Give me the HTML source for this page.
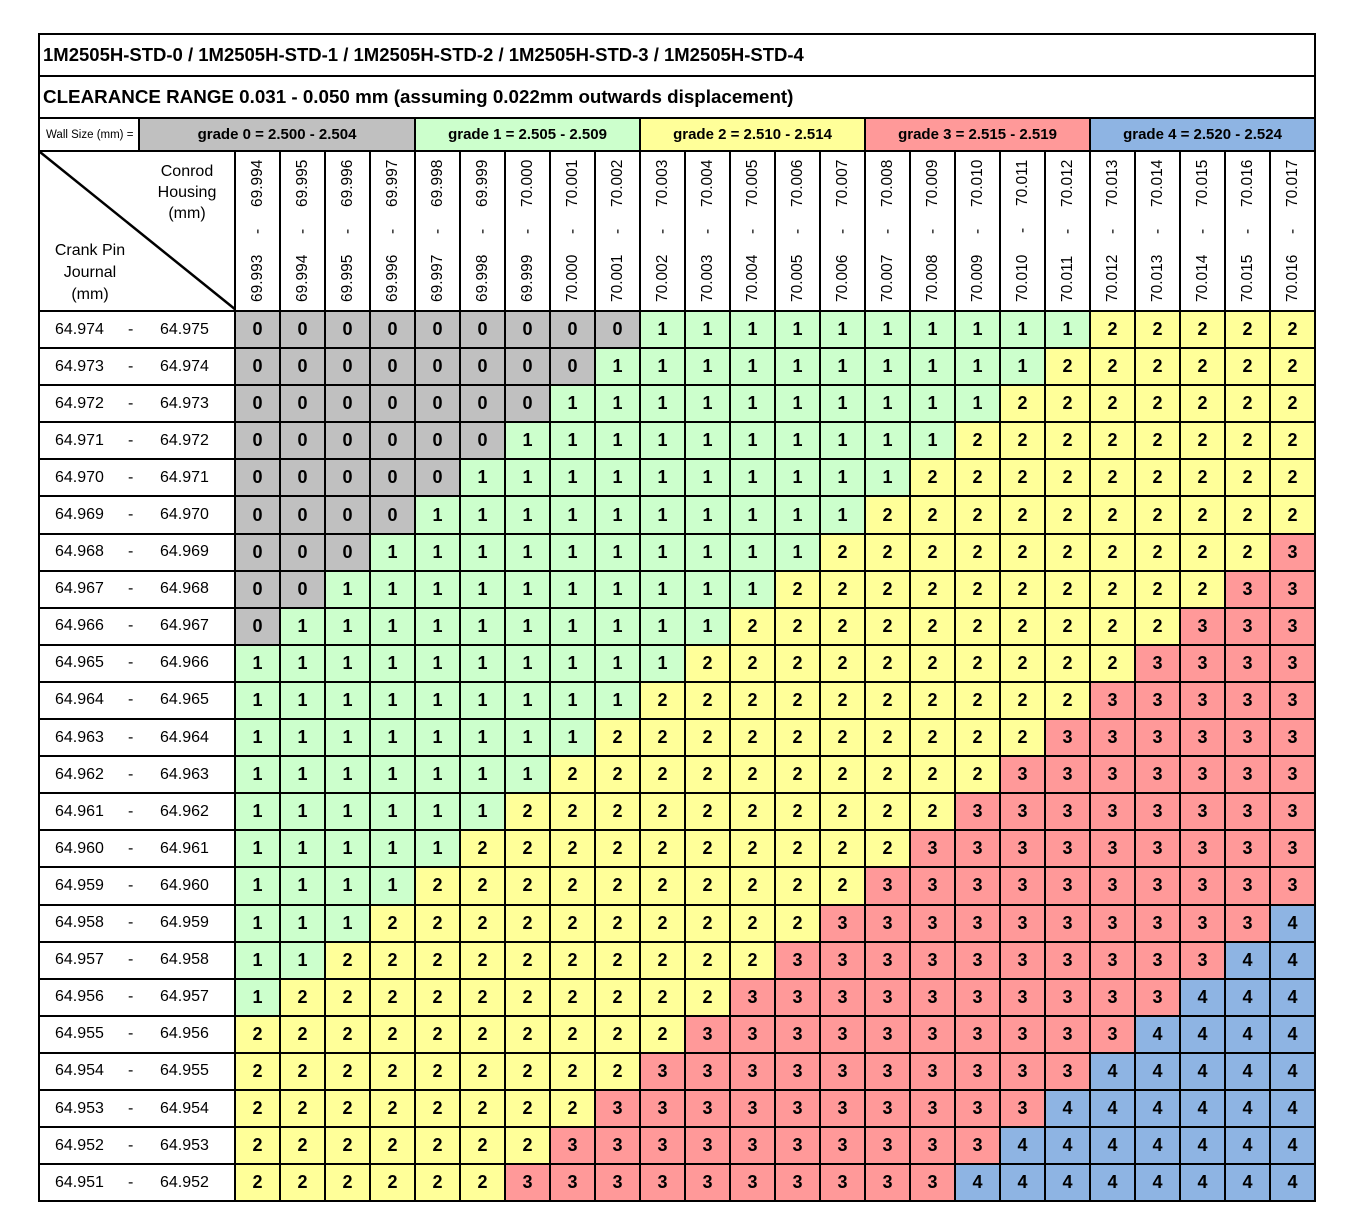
<!DOCTYPE html>
<html><head><meta charset="utf-8"><style>
body{margin:0;background:#fff;width:1370px;height:1228px;position:relative;font-family:"Liberation Sans",Arial,sans-serif}
table{position:absolute;left:38px;top:33px;border-collapse:collapse;table-layout:fixed;width:1277px;border:2px solid #000}
td{border:2px solid #000;padding:0;text-align:center;overflow:hidden;white-space:nowrap}
.t{text-align:left;padding-left:3px;font-weight:bold}
.gr{font-weight:bold;font-size:15px}
.h{vertical-align:middle}
.v{writing-mode:vertical-rl;transform:rotate(180deg);height:142px;display:flex;justify-content:space-between;align-items:center;margin:0 auto;font-size:15.5px}
.L{text-align:left;font-size:16px}
.L span{display:inline-block}
.L span:first-child{width:73px;padding-left:15px}
.L span:nth-child(2){width:32px}
tr.d td{height:35.1px}
tr.d td.a,tr.d td.b,tr.d td.c,tr.d td.e,tr.d td.f{font-weight:bold;font-size:18px}
.a{background:#c0c0c0}.b{background:#ccffcc}.c{background:#ffff99}.e{background:#ff9999}.f{background:#8eb4e3}
</style></head><body>
<table>
<colgroup><col style="width:100px"><col style="width:96px"><col span="24" style="width:45px"></colgroup>
<tr style="height:42px"><td colspan="26" class="t" style="font-size:18.5px">1M2505H-STD-0 / 1M2505H-STD-1 / 1M2505H-STD-2 / 1M2505H-STD-3 / 1M2505H-STD-4</td></tr>
<tr style="height:42px"><td colspan="26" class="t" style="font-size:18.8px">CLEARANCE RANGE 0.031 - 0.050 mm (assuming 0.022mm outwards displacement)</td></tr>
<tr style="height:33px"><td style="font-size:11.5px;text-align:left;padding-left:6px">Wall Size (mm) =</td><td colspan="5" class="gr a">grade 0 = 2.500 - 2.504</td><td colspan="5" class="gr b">grade 1 = 2.505 - 2.509</td><td colspan="5" class="gr c">grade 2 = 2.510 - 2.514</td><td colspan="5" class="gr e">grade 3 = 2.515 - 2.519</td><td colspan="5" class="gr f">grade 4 = 2.520 - 2.524</td></tr>
<tr style="height:160px"><td colspan="2" style="position:relative"><svg width="196" height="158" style="display:block" font-family="Liberation Sans, Arial, sans-serif" font-size="16"><line x1="0" y1="0" x2="196" y2="158" stroke="#000" stroke-width="2.5"/><text x="147" y="24" text-anchor="middle">Conrod</text><text x="147" y="45" text-anchor="middle">Housing</text><text x="147" y="66" text-anchor="middle">(mm)</text><text x="50" y="103" text-anchor="middle">Crank Pin</text><text x="50" y="125" text-anchor="middle">Journal</text><text x="50" y="147" text-anchor="middle">(mm)</text></svg></td>
<td class="h"><div class="v"><span>69.993</span><span>-</span><span>69.994</span></div></td>
<td class="h"><div class="v"><span>69.994</span><span>-</span><span>69.995</span></div></td>
<td class="h"><div class="v"><span>69.995</span><span>-</span><span>69.996</span></div></td>
<td class="h"><div class="v"><span>69.996</span><span>-</span><span>69.997</span></div></td>
<td class="h"><div class="v"><span>69.997</span><span>-</span><span>69.998</span></div></td>
<td class="h"><div class="v"><span>69.998</span><span>-</span><span>69.999</span></div></td>
<td class="h"><div class="v"><span>69.999</span><span>-</span><span>70.000</span></div></td>
<td class="h"><div class="v"><span>70.000</span><span>-</span><span>70.001</span></div></td>
<td class="h"><div class="v"><span>70.001</span><span>-</span><span>70.002</span></div></td>
<td class="h"><div class="v"><span>70.002</span><span>-</span><span>70.003</span></div></td>
<td class="h"><div class="v"><span>70.003</span><span>-</span><span>70.004</span></div></td>
<td class="h"><div class="v"><span>70.004</span><span>-</span><span>70.005</span></div></td>
<td class="h"><div class="v"><span>70.005</span><span>-</span><span>70.006</span></div></td>
<td class="h"><div class="v"><span>70.006</span><span>-</span><span>70.007</span></div></td>
<td class="h"><div class="v"><span>70.007</span><span>-</span><span>70.008</span></div></td>
<td class="h"><div class="v"><span>70.008</span><span>-</span><span>70.009</span></div></td>
<td class="h"><div class="v"><span>70.009</span><span>-</span><span>70.010</span></div></td>
<td class="h"><div class="v"><span>70.010</span><span>-</span><span>70.011</span></div></td>
<td class="h"><div class="v"><span>70.011</span><span>-</span><span>70.012</span></div></td>
<td class="h"><div class="v"><span>70.012</span><span>-</span><span>70.013</span></div></td>
<td class="h"><div class="v"><span>70.013</span><span>-</span><span>70.014</span></div></td>
<td class="h"><div class="v"><span>70.014</span><span>-</span><span>70.015</span></div></td>
<td class="h"><div class="v"><span>70.015</span><span>-</span><span>70.016</span></div></td>
<td class="h"><div class="v"><span>70.016</span><span>-</span><span>70.017</span></div></td>
</tr>
<tr class="d"><td colspan="2" class="L"><span>64.974</span><span>-</span><span>64.975</span></td><td class="a">0</td><td class="a">0</td><td class="a">0</td><td class="a">0</td><td class="a">0</td><td class="a">0</td><td class="a">0</td><td class="a">0</td><td class="a">0</td><td class="b">1</td><td class="b">1</td><td class="b">1</td><td class="b">1</td><td class="b">1</td><td class="b">1</td><td class="b">1</td><td class="b">1</td><td class="b">1</td><td class="b">1</td><td class="c">2</td><td class="c">2</td><td class="c">2</td><td class="c">2</td><td class="c">2</td></tr>
<tr class="d"><td colspan="2" class="L"><span>64.973</span><span>-</span><span>64.974</span></td><td class="a">0</td><td class="a">0</td><td class="a">0</td><td class="a">0</td><td class="a">0</td><td class="a">0</td><td class="a">0</td><td class="a">0</td><td class="b">1</td><td class="b">1</td><td class="b">1</td><td class="b">1</td><td class="b">1</td><td class="b">1</td><td class="b">1</td><td class="b">1</td><td class="b">1</td><td class="b">1</td><td class="c">2</td><td class="c">2</td><td class="c">2</td><td class="c">2</td><td class="c">2</td><td class="c">2</td></tr>
<tr class="d"><td colspan="2" class="L"><span>64.972</span><span>-</span><span>64.973</span></td><td class="a">0</td><td class="a">0</td><td class="a">0</td><td class="a">0</td><td class="a">0</td><td class="a">0</td><td class="a">0</td><td class="b">1</td><td class="b">1</td><td class="b">1</td><td class="b">1</td><td class="b">1</td><td class="b">1</td><td class="b">1</td><td class="b">1</td><td class="b">1</td><td class="b">1</td><td class="c">2</td><td class="c">2</td><td class="c">2</td><td class="c">2</td><td class="c">2</td><td class="c">2</td><td class="c">2</td></tr>
<tr class="d"><td colspan="2" class="L"><span>64.971</span><span>-</span><span>64.972</span></td><td class="a">0</td><td class="a">0</td><td class="a">0</td><td class="a">0</td><td class="a">0</td><td class="a">0</td><td class="b">1</td><td class="b">1</td><td class="b">1</td><td class="b">1</td><td class="b">1</td><td class="b">1</td><td class="b">1</td><td class="b">1</td><td class="b">1</td><td class="b">1</td><td class="c">2</td><td class="c">2</td><td class="c">2</td><td class="c">2</td><td class="c">2</td><td class="c">2</td><td class="c">2</td><td class="c">2</td></tr>
<tr class="d"><td colspan="2" class="L"><span>64.970</span><span>-</span><span>64.971</span></td><td class="a">0</td><td class="a">0</td><td class="a">0</td><td class="a">0</td><td class="a">0</td><td class="b">1</td><td class="b">1</td><td class="b">1</td><td class="b">1</td><td class="b">1</td><td class="b">1</td><td class="b">1</td><td class="b">1</td><td class="b">1</td><td class="b">1</td><td class="c">2</td><td class="c">2</td><td class="c">2</td><td class="c">2</td><td class="c">2</td><td class="c">2</td><td class="c">2</td><td class="c">2</td><td class="c">2</td></tr>
<tr class="d"><td colspan="2" class="L"><span>64.969</span><span>-</span><span>64.970</span></td><td class="a">0</td><td class="a">0</td><td class="a">0</td><td class="a">0</td><td class="b">1</td><td class="b">1</td><td class="b">1</td><td class="b">1</td><td class="b">1</td><td class="b">1</td><td class="b">1</td><td class="b">1</td><td class="b">1</td><td class="b">1</td><td class="c">2</td><td class="c">2</td><td class="c">2</td><td class="c">2</td><td class="c">2</td><td class="c">2</td><td class="c">2</td><td class="c">2</td><td class="c">2</td><td class="c">2</td></tr>
<tr class="d"><td colspan="2" class="L"><span>64.968</span><span>-</span><span>64.969</span></td><td class="a">0</td><td class="a">0</td><td class="a">0</td><td class="b">1</td><td class="b">1</td><td class="b">1</td><td class="b">1</td><td class="b">1</td><td class="b">1</td><td class="b">1</td><td class="b">1</td><td class="b">1</td><td class="b">1</td><td class="c">2</td><td class="c">2</td><td class="c">2</td><td class="c">2</td><td class="c">2</td><td class="c">2</td><td class="c">2</td><td class="c">2</td><td class="c">2</td><td class="c">2</td><td class="e">3</td></tr>
<tr class="d"><td colspan="2" class="L"><span>64.967</span><span>-</span><span>64.968</span></td><td class="a">0</td><td class="a">0</td><td class="b">1</td><td class="b">1</td><td class="b">1</td><td class="b">1</td><td class="b">1</td><td class="b">1</td><td class="b">1</td><td class="b">1</td><td class="b">1</td><td class="b">1</td><td class="c">2</td><td class="c">2</td><td class="c">2</td><td class="c">2</td><td class="c">2</td><td class="c">2</td><td class="c">2</td><td class="c">2</td><td class="c">2</td><td class="c">2</td><td class="e">3</td><td class="e">3</td></tr>
<tr class="d"><td colspan="2" class="L"><span>64.966</span><span>-</span><span>64.967</span></td><td class="a">0</td><td class="b">1</td><td class="b">1</td><td class="b">1</td><td class="b">1</td><td class="b">1</td><td class="b">1</td><td class="b">1</td><td class="b">1</td><td class="b">1</td><td class="b">1</td><td class="c">2</td><td class="c">2</td><td class="c">2</td><td class="c">2</td><td class="c">2</td><td class="c">2</td><td class="c">2</td><td class="c">2</td><td class="c">2</td><td class="c">2</td><td class="e">3</td><td class="e">3</td><td class="e">3</td></tr>
<tr class="d"><td colspan="2" class="L"><span>64.965</span><span>-</span><span>64.966</span></td><td class="b">1</td><td class="b">1</td><td class="b">1</td><td class="b">1</td><td class="b">1</td><td class="b">1</td><td class="b">1</td><td class="b">1</td><td class="b">1</td><td class="b">1</td><td class="c">2</td><td class="c">2</td><td class="c">2</td><td class="c">2</td><td class="c">2</td><td class="c">2</td><td class="c">2</td><td class="c">2</td><td class="c">2</td><td class="c">2</td><td class="e">3</td><td class="e">3</td><td class="e">3</td><td class="e">3</td></tr>
<tr class="d"><td colspan="2" class="L"><span>64.964</span><span>-</span><span>64.965</span></td><td class="b">1</td><td class="b">1</td><td class="b">1</td><td class="b">1</td><td class="b">1</td><td class="b">1</td><td class="b">1</td><td class="b">1</td><td class="b">1</td><td class="c">2</td><td class="c">2</td><td class="c">2</td><td class="c">2</td><td class="c">2</td><td class="c">2</td><td class="c">2</td><td class="c">2</td><td class="c">2</td><td class="c">2</td><td class="e">3</td><td class="e">3</td><td class="e">3</td><td class="e">3</td><td class="e">3</td></tr>
<tr class="d"><td colspan="2" class="L"><span>64.963</span><span>-</span><span>64.964</span></td><td class="b">1</td><td class="b">1</td><td class="b">1</td><td class="b">1</td><td class="b">1</td><td class="b">1</td><td class="b">1</td><td class="b">1</td><td class="c">2</td><td class="c">2</td><td class="c">2</td><td class="c">2</td><td class="c">2</td><td class="c">2</td><td class="c">2</td><td class="c">2</td><td class="c">2</td><td class="c">2</td><td class="e">3</td><td class="e">3</td><td class="e">3</td><td class="e">3</td><td class="e">3</td><td class="e">3</td></tr>
<tr class="d"><td colspan="2" class="L"><span>64.962</span><span>-</span><span>64.963</span></td><td class="b">1</td><td class="b">1</td><td class="b">1</td><td class="b">1</td><td class="b">1</td><td class="b">1</td><td class="b">1</td><td class="c">2</td><td class="c">2</td><td class="c">2</td><td class="c">2</td><td class="c">2</td><td class="c">2</td><td class="c">2</td><td class="c">2</td><td class="c">2</td><td class="c">2</td><td class="e">3</td><td class="e">3</td><td class="e">3</td><td class="e">3</td><td class="e">3</td><td class="e">3</td><td class="e">3</td></tr>
<tr class="d"><td colspan="2" class="L"><span>64.961</span><span>-</span><span>64.962</span></td><td class="b">1</td><td class="b">1</td><td class="b">1</td><td class="b">1</td><td class="b">1</td><td class="b">1</td><td class="c">2</td><td class="c">2</td><td class="c">2</td><td class="c">2</td><td class="c">2</td><td class="c">2</td><td class="c">2</td><td class="c">2</td><td class="c">2</td><td class="c">2</td><td class="e">3</td><td class="e">3</td><td class="e">3</td><td class="e">3</td><td class="e">3</td><td class="e">3</td><td class="e">3</td><td class="e">3</td></tr>
<tr class="d"><td colspan="2" class="L"><span>64.960</span><span>-</span><span>64.961</span></td><td class="b">1</td><td class="b">1</td><td class="b">1</td><td class="b">1</td><td class="b">1</td><td class="c">2</td><td class="c">2</td><td class="c">2</td><td class="c">2</td><td class="c">2</td><td class="c">2</td><td class="c">2</td><td class="c">2</td><td class="c">2</td><td class="c">2</td><td class="e">3</td><td class="e">3</td><td class="e">3</td><td class="e">3</td><td class="e">3</td><td class="e">3</td><td class="e">3</td><td class="e">3</td><td class="e">3</td></tr>
<tr class="d"><td colspan="2" class="L"><span>64.959</span><span>-</span><span>64.960</span></td><td class="b">1</td><td class="b">1</td><td class="b">1</td><td class="b">1</td><td class="c">2</td><td class="c">2</td><td class="c">2</td><td class="c">2</td><td class="c">2</td><td class="c">2</td><td class="c">2</td><td class="c">2</td><td class="c">2</td><td class="c">2</td><td class="e">3</td><td class="e">3</td><td class="e">3</td><td class="e">3</td><td class="e">3</td><td class="e">3</td><td class="e">3</td><td class="e">3</td><td class="e">3</td><td class="e">3</td></tr>
<tr class="d"><td colspan="2" class="L"><span>64.958</span><span>-</span><span>64.959</span></td><td class="b">1</td><td class="b">1</td><td class="b">1</td><td class="c">2</td><td class="c">2</td><td class="c">2</td><td class="c">2</td><td class="c">2</td><td class="c">2</td><td class="c">2</td><td class="c">2</td><td class="c">2</td><td class="c">2</td><td class="e">3</td><td class="e">3</td><td class="e">3</td><td class="e">3</td><td class="e">3</td><td class="e">3</td><td class="e">3</td><td class="e">3</td><td class="e">3</td><td class="e">3</td><td class="f">4</td></tr>
<tr class="d"><td colspan="2" class="L"><span>64.957</span><span>-</span><span>64.958</span></td><td class="b">1</td><td class="b">1</td><td class="c">2</td><td class="c">2</td><td class="c">2</td><td class="c">2</td><td class="c">2</td><td class="c">2</td><td class="c">2</td><td class="c">2</td><td class="c">2</td><td class="c">2</td><td class="e">3</td><td class="e">3</td><td class="e">3</td><td class="e">3</td><td class="e">3</td><td class="e">3</td><td class="e">3</td><td class="e">3</td><td class="e">3</td><td class="e">3</td><td class="f">4</td><td class="f">4</td></tr>
<tr class="d"><td colspan="2" class="L"><span>64.956</span><span>-</span><span>64.957</span></td><td class="b">1</td><td class="c">2</td><td class="c">2</td><td class="c">2</td><td class="c">2</td><td class="c">2</td><td class="c">2</td><td class="c">2</td><td class="c">2</td><td class="c">2</td><td class="c">2</td><td class="e">3</td><td class="e">3</td><td class="e">3</td><td class="e">3</td><td class="e">3</td><td class="e">3</td><td class="e">3</td><td class="e">3</td><td class="e">3</td><td class="e">3</td><td class="f">4</td><td class="f">4</td><td class="f">4</td></tr>
<tr class="d"><td colspan="2" class="L"><span>64.955</span><span>-</span><span>64.956</span></td><td class="c">2</td><td class="c">2</td><td class="c">2</td><td class="c">2</td><td class="c">2</td><td class="c">2</td><td class="c">2</td><td class="c">2</td><td class="c">2</td><td class="c">2</td><td class="e">3</td><td class="e">3</td><td class="e">3</td><td class="e">3</td><td class="e">3</td><td class="e">3</td><td class="e">3</td><td class="e">3</td><td class="e">3</td><td class="e">3</td><td class="f">4</td><td class="f">4</td><td class="f">4</td><td class="f">4</td></tr>
<tr class="d"><td colspan="2" class="L"><span>64.954</span><span>-</span><span>64.955</span></td><td class="c">2</td><td class="c">2</td><td class="c">2</td><td class="c">2</td><td class="c">2</td><td class="c">2</td><td class="c">2</td><td class="c">2</td><td class="c">2</td><td class="e">3</td><td class="e">3</td><td class="e">3</td><td class="e">3</td><td class="e">3</td><td class="e">3</td><td class="e">3</td><td class="e">3</td><td class="e">3</td><td class="e">3</td><td class="f">4</td><td class="f">4</td><td class="f">4</td><td class="f">4</td><td class="f">4</td></tr>
<tr class="d"><td colspan="2" class="L"><span>64.953</span><span>-</span><span>64.954</span></td><td class="c">2</td><td class="c">2</td><td class="c">2</td><td class="c">2</td><td class="c">2</td><td class="c">2</td><td class="c">2</td><td class="c">2</td><td class="e">3</td><td class="e">3</td><td class="e">3</td><td class="e">3</td><td class="e">3</td><td class="e">3</td><td class="e">3</td><td class="e">3</td><td class="e">3</td><td class="e">3</td><td class="f">4</td><td class="f">4</td><td class="f">4</td><td class="f">4</td><td class="f">4</td><td class="f">4</td></tr>
<tr class="d"><td colspan="2" class="L"><span>64.952</span><span>-</span><span>64.953</span></td><td class="c">2</td><td class="c">2</td><td class="c">2</td><td class="c">2</td><td class="c">2</td><td class="c">2</td><td class="c">2</td><td class="e">3</td><td class="e">3</td><td class="e">3</td><td class="e">3</td><td class="e">3</td><td class="e">3</td><td class="e">3</td><td class="e">3</td><td class="e">3</td><td class="e">3</td><td class="f">4</td><td class="f">4</td><td class="f">4</td><td class="f">4</td><td class="f">4</td><td class="f">4</td><td class="f">4</td></tr>
<tr class="d"><td colspan="2" class="L"><span>64.951</span><span>-</span><span>64.952</span></td><td class="c">2</td><td class="c">2</td><td class="c">2</td><td class="c">2</td><td class="c">2</td><td class="c">2</td><td class="e">3</td><td class="e">3</td><td class="e">3</td><td class="e">3</td><td class="e">3</td><td class="e">3</td><td class="e">3</td><td class="e">3</td><td class="e">3</td><td class="e">3</td><td class="f">4</td><td class="f">4</td><td class="f">4</td><td class="f">4</td><td class="f">4</td><td class="f">4</td><td class="f">4</td><td class="f">4</td></tr>
</table>
</body></html>
